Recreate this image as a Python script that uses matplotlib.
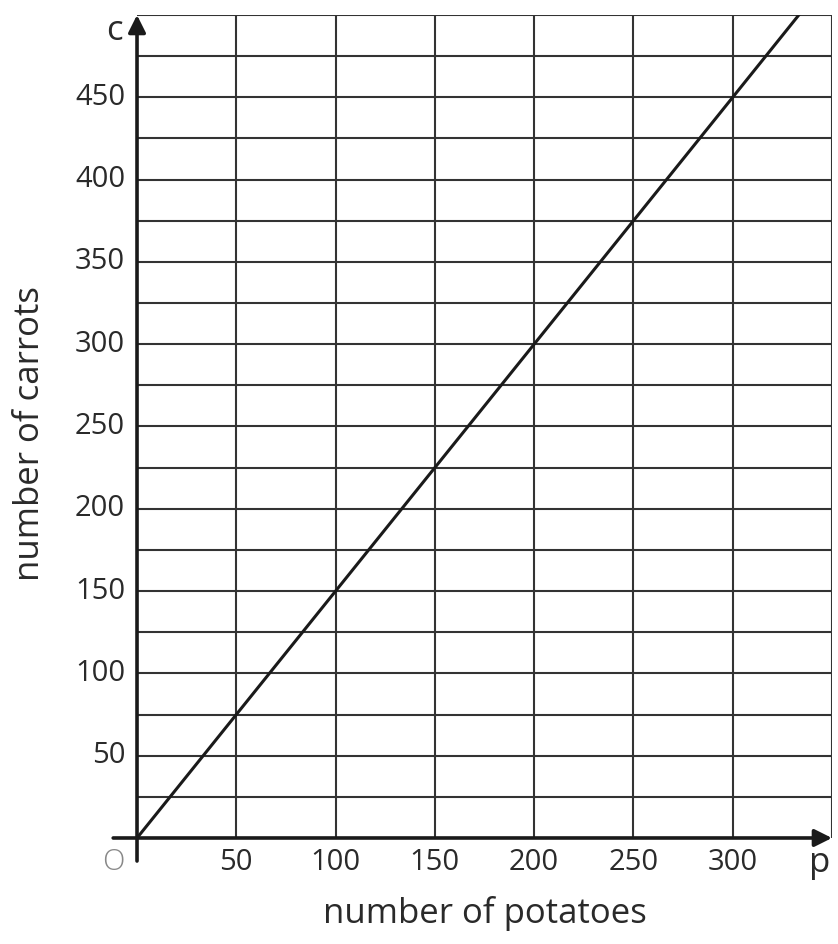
import matplotlib
matplotlib.use("Agg")
import matplotlib.pyplot as plt
import numpy as np

# data
potatoes = [0, 50, 100, 150, 200, 250, 300, 333.3]
carrots = [0, 75, 150, 225, 300, 375, 450, 500]
x_ticks = [50, 100, 150, 200, 250, 300]
y_ticks = [50, 100, 150, 200, 250, 300, 350, 400, 450]

plt.rcParams["font.family"] = ["Open Sans", "DejaVu Sans"]

fig = plt.figure(figsize=(8.38, 9.44), dpi=100)
ax = fig.add_axes([0.1635, 0.1123, 0.8293, 0.8718])
ax.set_xlim(0, 350)
ax.set_ylim(0, 500)

grid_color = "#333333"
for gx in np.arange(50, 351, 50):
    ax.axvline(gx, color=grid_color, lw=1.5, zorder=1)
for gy in np.arange(25, 501, 25):
    ax.axhline(gy, color=grid_color, lw=1.5, zorder=1)

for s in ax.spines.values():
    s.set_visible(False)
ax.set_xticks([])
ax.set_yticks([])

ax.plot(potatoes, carrots, color="#1a1a1a", lw=2.2, zorder=3)

# axes with arrows
ax.annotate("", xy=(350, 0), xytext=(-12, 0),
            arrowprops=dict(arrowstyle="-|>", color="#1a1a1a", lw=2.6,
                            mutation_scale=26, shrinkA=0, shrinkB=0),
            annotation_clip=False, zorder=4)
ax.annotate("", xy=(0, 500), xytext=(0, -14),
            arrowprops=dict(arrowstyle="-|>", color="#1a1a1a", lw=2.6,
                            mutation_scale=26, shrinkA=0, shrinkB=0),
            annotation_clip=False, zorder=4)

for t in x_ticks:
    ax.text(t, -15, str(t), ha="center", va="center", fontsize=21,
            color="#2a2a2a", clip_on=False)
for t in y_ticks:
    ax.text(-6, t, str(t), ha="right", va="center", fontsize=21,
            color="#2a2a2a", clip_on=False)

ax.text(-12, -15, "O", ha="center", va="center", fontsize=21,
        color="#888888", fontweight="light", clip_on=False)
ax.text(-7, 490, "c", ha="right", va="center", fontsize=25,
        color="#2a2a2a", clip_on=False)
ax.text(344, -15, "p", ha="center", va="center", fontsize=25,
        color="#2a2a2a", clip_on=False)

ax.text(175, -46, "number of potatoes", ha="center", va="center",
        fontsize=25, color="#2a2a2a", clip_on=False)
ax.text(-54, 246, "number of carrots", ha="center", va="center",
        rotation=90, fontsize=25, color="#2a2a2a", clip_on=False)

fig.savefig("out.png", dpi=100, facecolor="white")
